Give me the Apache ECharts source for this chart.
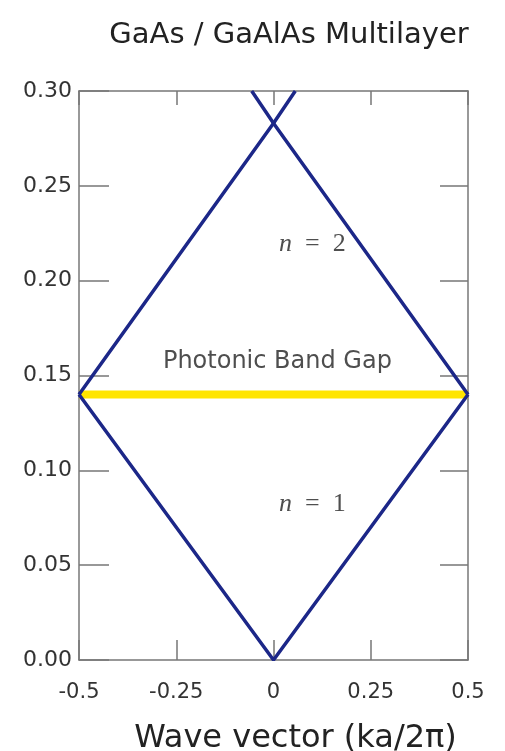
<!DOCTYPE html>
<html>
<head>
<meta charset="utf-8">
<script src="https://cdn.jsdelivr.net/npm/echarts@6/dist/echarts.min.js"></script>
<style>
  html, body { margin: 0; padding: 0; background: #fff; }
  #chart { width: 505px; height: 751px; }
</style>
</head>
<body>
<div id="chart"></div>
<script>
// Band structure of a GaAs / GaAlAs multilayer (frequency vs. wave vector)
const xTicks = [-0.5, -0.25, 0, 0.25, 0.5];
const xTickLabels = ['-0.5', '-0.25', '0', '0.25', '0.5'];
const yTickLabels = ['0.00', '0.05', '0.10', '0.15', '0.20', '0.25', '0.30'];

// first band (n = 1)
const band1K = [-0.5, 0, 0.5];
const band1W = [0.14, 0.0, 0.14];

// second band (n = 2): two folded branches crossing at k = 0
const band2aK = [-0.5, 0, 0.056];
const band2aW = [0.14, 0.283, 0.30];
const band2bK = [0.5, 0, -0.056];
const band2bW = [0.14, 0.283, 0.30];

// photonic band gap marker
const gapK = [-0.5, 0.5];
const gapW = [0.14, 0.14];

// annotation text
const annoK = [0.01, 0.10, 0.10];
const annoW = [0.157, 0.219, 0.082];
const annoText = ['Photonic Band Gap', 'n = 2', 'n = 1'];

const zip = (a, b) => a.map((v, i) => [v, b[i]]);

const blue = '#1c2788';
const axisGray = '#777';
const sans = 'DejaVu Sans';

const chart = echarts.init(document.getElementById('chart'), null, { renderer: 'canvas' });

const line = { show: true, onZero: false, lineStyle: { color: axisGray, width: 1.5 } };
const tick = len => ({ show: true, inside: true, length: len, lineStyle: { color: axisGray, width: 1.5 } });

chart.setOption({
  animation: false,
  backgroundColor: '#fff',
  title: {
    text: 'GaAs / GaAlAs Multilayer',
    left: 284,
    textAlign: 'center',
    top: 16,
    textStyle: { fontFamily: sans, fontWeight: 'normal', fontSize: 29, color: '#222' }
  },
  grid: { left: 79, right: 37, top: 91, bottom: 91, containLabel: false, outerBoundsMode: 'none' },
  xAxis: [
    {
      type: 'value', position: 'bottom', min: -0.5, max: 0.5, interval: 0.25,
      axisLine: line, axisTick: tick(20), splitLine: { show: false },
      axisLabel: {
        margin: 22, fontFamily: sans, fontSize: 21, color: '#333',
        formatter: v => xTickLabels[xTicks.findIndex(t => Math.abs(t - v) < 1e-9)]
      },
      name: 'Wave vector (ka/2π)',
      nameLocation: 'middle',
      nameGap: 63,
      nameTextStyle: { fontFamily: sans, fontSize: 32, color: '#222', padding: [0, 0, 0, 44] }
    },
    {
      type: 'value', position: 'top', min: -0.5, max: 0.5, interval: 0.25,
      axisLine: line, axisTick: tick(14), splitLine: { show: false },
      axisLabel: { show: false }
    }
  ],
  yAxis: [
    {
      type: 'value', position: 'left', min: 0, max: 0.3, interval: 0.05,
      axisLine: line, axisTick: tick(30), splitLine: { show: false },
      axisLabel: {
        margin: 7, fontFamily: sans, fontSize: 22, color: '#333',
        formatter: v => yTickLabels[Math.round(v / 0.05)]
      }
    },
    {
      type: 'value', position: 'right', min: 0, max: 0.3, interval: 0.05,
      axisLine: line, axisTick: tick(28), splitLine: { show: false },
      axisLabel: { show: false }
    }
  ],
  series: [
    {
      name: 'gap', type: 'line', data: zip(gapK, gapW), symbol: 'none', z: 2,
      lineStyle: { color: '#ffe500', width: 8 }
    },
    {
      name: 'n1', type: 'line', data: zip(band1K, band1W), symbol: 'none', z: 3,
      lineStyle: { color: blue, width: 3.5 }
    },
    {
      name: 'n2a', type: 'line', data: zip(band2aK, band2aW), symbol: 'none', z: 3,
      lineStyle: { color: blue, width: 3.5 }
    },
    {
      name: 'n2b', type: 'line', data: zip(band2bK, band2bW), symbol: 'none', z: 3,
      lineStyle: { color: blue, width: 3.5 }
    },
    {
      name: 'labels', type: 'scatter', symbolSize: 0, z: 4,
      data: annoK.map((k, i) => ({ value: [k, annoW[i]], text: annoText[i] })),
      label: {
        show: true, position: 'inside', color: '#222',
        formatter: p => {
          const t = p.data.text;
          if (t.startsWith('n = ')) return '{i|n}{r|  =  ' + t.slice(4) + '}';
          return '{s|' + t + '}';
        },
        rich: {
          s: { fontFamily: sans, fontSize: 24, color: '#222' },
          i: { fontFamily: 'Liberation Serif', fontStyle: 'italic', fontSize: 26, color: '#222' },
          r: { fontFamily: 'Liberation Serif', fontSize: 26, color: '#222' }
        }
      }
    }
  ]
});
</script>
</body>
</html>
